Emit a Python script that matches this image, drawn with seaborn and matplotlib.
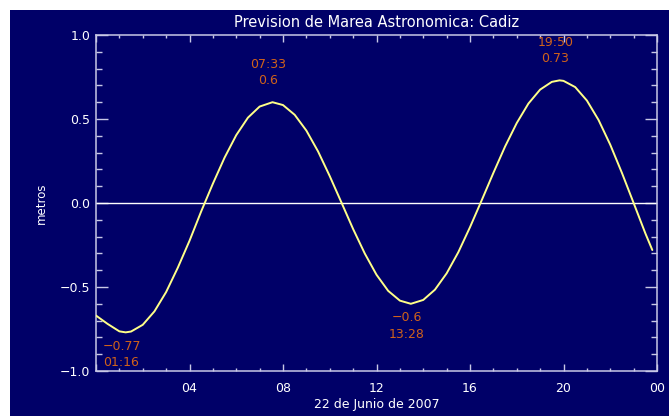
import numpy as np
import pandas as pd
import matplotlib
matplotlib.use("Agg")
import matplotlib.pyplot as plt
from matplotlib.patches import Rectangle
import seaborn as sns

# ---- data (hours of the day, sea level in metres) ----
hours = [0.0, 0.5, 1.0, 1.27, 1.5, 2.0, 2.5, 3.0, 3.5, 4.0, 4.5, 5.0, 5.5, 6.0,
         6.5, 7.0, 7.55, 8.0, 8.5, 9.0, 9.5, 10.0, 10.5, 11.0, 11.5, 12.0,
         12.5, 13.0, 13.47, 14.0, 14.5, 15.0, 15.5, 16.0, 16.5, 17.0, 17.5,
         18.0, 18.5, 19.0, 19.5, 19.83, 20.0, 20.5, 21.0, 21.5, 22.0, 22.5,
         23.0, 23.5, 23.8]
level = [-0.67, -0.72, -0.764, -0.77, -0.765, -0.725, -0.645, -0.53, -0.385,
         -0.225, -0.05, 0.115, 0.27, 0.404, 0.508, 0.574, 0.60, 0.583, 0.525,
         0.431, 0.307, 0.16, 0.003, -0.155, -0.301, -0.427, -0.523, -0.581,
         -0.60, -0.577, -0.516, -0.419, -0.293, -0.144, 0.016, 0.179, 0.336,
         0.476, 0.592, 0.675, 0.721, 0.73, 0.727, 0.69, 0.61, 0.494, 0.347,
         0.179, 0.0, -0.18, -0.28]

ext_hours = [1.27, 7.55, 13.47, 19.83]
ext_level = [-0.77, 0.60, -0.60, 0.73]
ext_time = ["01:16", "07:33", "13:28", "19:50"]
ext_value = ["\u22120.77", "0.6", "\u22120.6", "0.73"]
ext_kind = ["low", "high", "low", "high"]

xtick_pos = [0, 4, 8, 12, 16, 20, 24]
xtick_lab = ["", "04", "08", "12", "16", "20", "00"]
ytick_pos = [-1.0, -0.5, 0.0, 0.5, 1.0]
ytick_lab = ["\u22121.0", "\u22120.5", "0.0", "0.5", "1.0"]

title = "Prevision de Marea Astronomica: Cadiz"
xlabel = "22 de Junio de 2007"
ylabel = "metros"

# ---- style ----
NAVY = "#000068"
AXC = "#c8c8e6"
CURVE = "#ffff88"
ORANGE = "#d0621a"

sns.set_style("ticks")
plt.rcParams["font.family"] = ["DejaVu Sans"]

fig = plt.figure(figsize=(6.69, 4.16), dpi=100)
fig.patch.set_facecolor("white")
fig.patches.append(Rectangle((10 / 669, 0), 659 / 669, 406 / 416,
                             transform=fig.transFigure, facecolor=NAVY,
                             edgecolor="none", zorder=-10))

ax = fig.add_axes([96 / 669, 1 - 371 / 416, (657 - 96) / 669, (371 - 35) / 416])
ax.set_facecolor(NAVY)

df = pd.DataFrame({"hora": hours, "nivel": level})
ax.axhline(0, color="white", lw=1.0, zorder=1)
sns.lineplot(data=df, x="hora", y="nivel", ax=ax, color=CURVE, lw=1.4,
             zorder=3, sort=True)

ax.set_xlim(0, 24)
ax.set_ylim(-1.0, 1.0)
ax.set_xticks(xtick_pos)
ax.set_xticklabels(xtick_lab)
ax.set_xticks(np.arange(0, 25, 1), minor=True)
ax.set_yticks(ytick_pos)
ax.set_yticklabels(ytick_lab)
ax.set_yticks(np.arange(-1.0, 1.01, 0.1), minor=True)

for s in ax.spines.values():
    s.set_color(AXC)
    s.set_linewidth(1.1)
    s.set_visible(True)

ax.tick_params(axis="both", which="both", direction="in", top=True,
               right=True, colors=AXC, labelcolor="white", labelsize=9)
ax.tick_params(axis="x", which="major", length=5, width=1.0, pad=8)
ax.tick_params(axis="x", which="minor", length=2.2, width=1.0)
ax.tick_params(axis="y", which="major", length=8.6, width=1.0, pad=4)
ax.tick_params(axis="y", which="minor", length=4, width=1.0)

ax.set_title(title, color="white", fontsize=10.5, pad=6)
ax.set_xlabel(xlabel, color="white", fontsize=9, labelpad=2)
ax.set_ylabel(ylabel, color="white", fontsize=8.5, labelpad=9)

for h, v, t, val, k in zip(ext_hours, ext_level, ext_time, ext_value, ext_kind):
    if k == "high":
        ax.annotate(t, (h, v), xytext=(-3, 27.5), textcoords="offset points",
                    ha="center", va="center", color=ORANGE, fontsize=9)
        ax.annotate(val, (h, v), xytext=(-3, 15.5), textcoords="offset points",
                    ha="center", va="center", color=ORANGE, fontsize=9)
    else:
        ax.annotate(val, (h, v), xytext=(-3, -10), textcoords="offset points",
                    ha="center", va="center", color=ORANGE, fontsize=9)
        ax.annotate(t, (h, v), xytext=(-3, -22), textcoords="offset points",
                    ha="center", va="center", color=ORANGE, fontsize=9)

fig.savefig("out.png", dpi=100, facecolor=fig.get_facecolor())
